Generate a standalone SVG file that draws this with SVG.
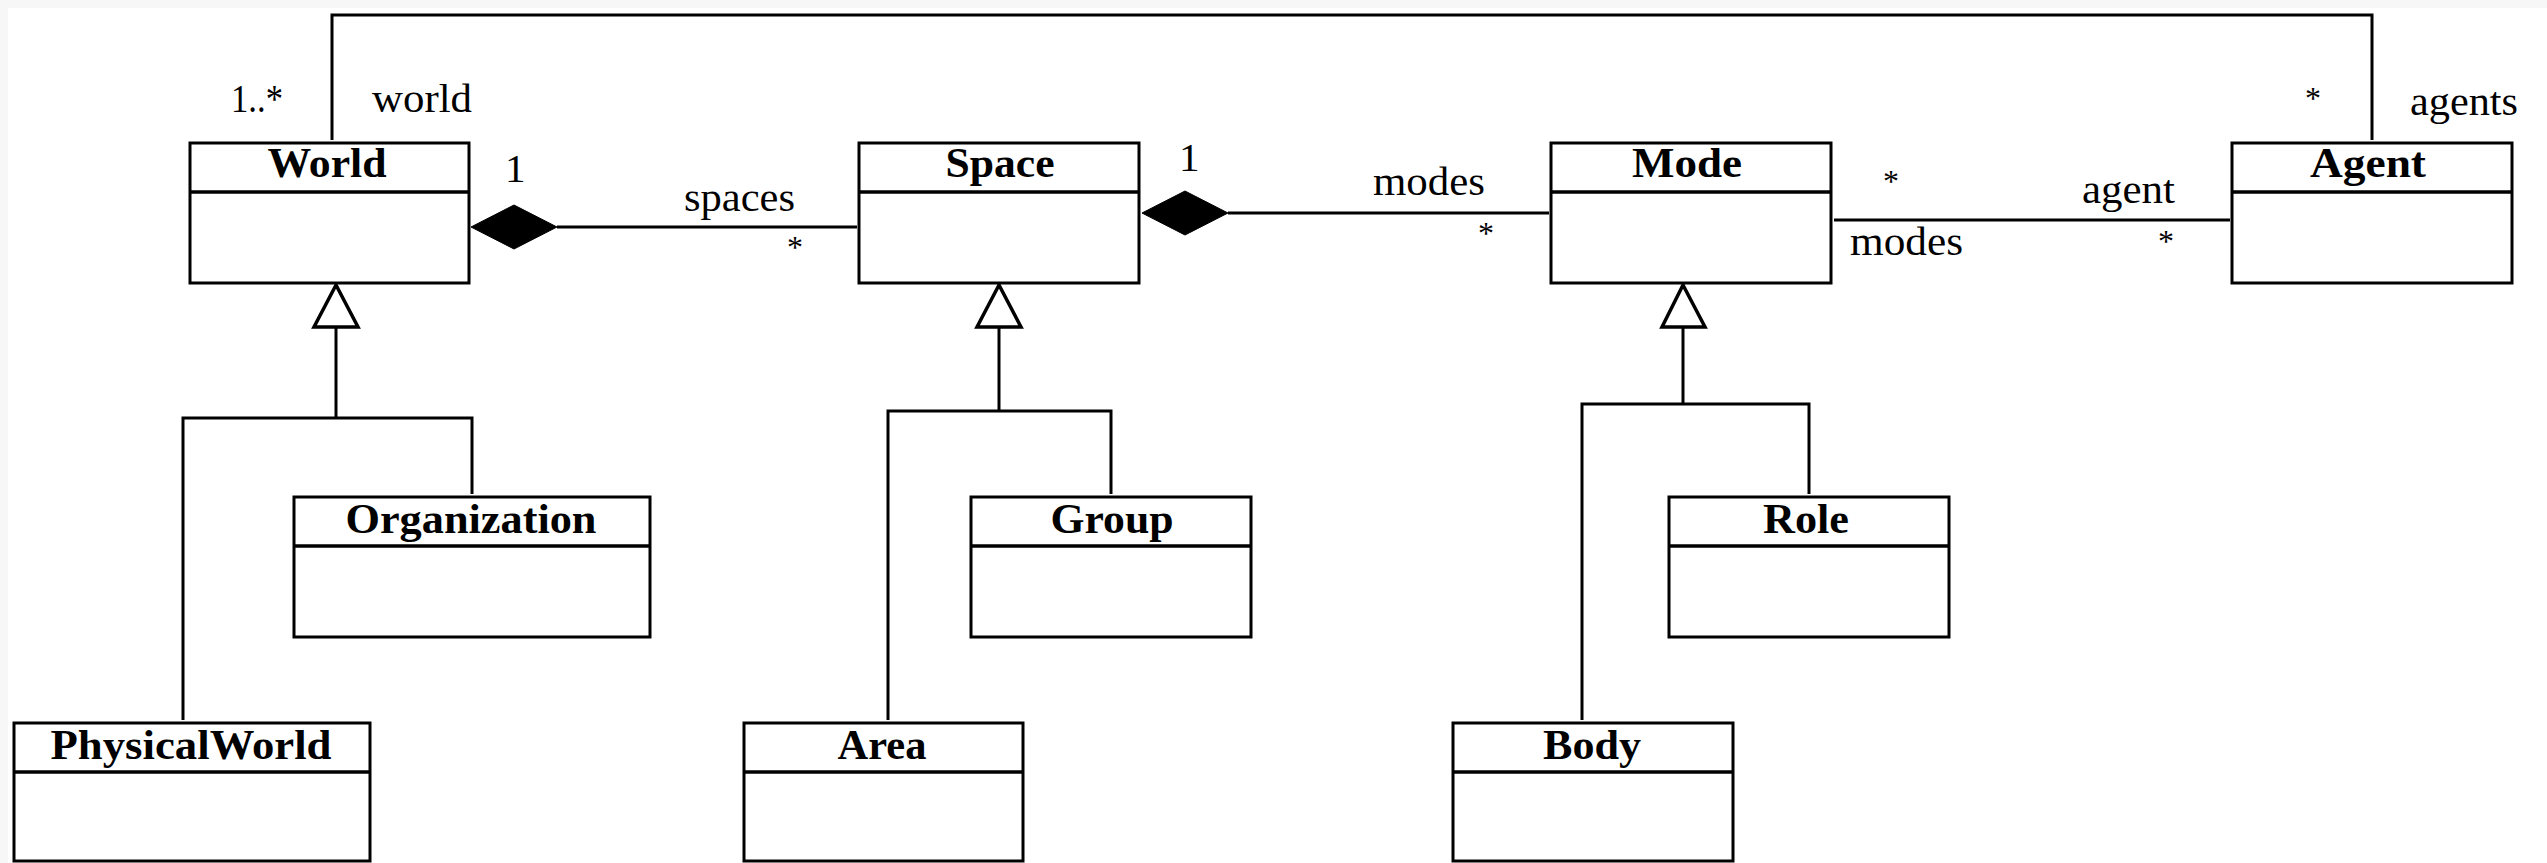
<svg xmlns="http://www.w3.org/2000/svg" width="2547" height="863" viewBox="0 0 2547 863">
  <style>
    .box { fill: #ffffff; stroke: #000000; stroke-width: 3; }
    .div { stroke: #000000; stroke-width: 3.5; fill: none; }
    .title { font-family: "Liberation Serif", "Times New Roman", serif; font-weight: bold; font-size: 42px; fill: #000000; text-anchor: middle; }
    .lbl { font-family: "Liberation Serif", "Times New Roman", serif; font-size: 41px; fill: #000000; }
    .mult { font-family: "Liberation Serif", "Times New Roman", serif; font-size: 32px; fill: #000000; text-anchor: middle; }
    .line { stroke: #000000; stroke-width: 3; fill: none; }
    .diamond { fill: #000000; stroke: #000000; stroke-width: 1; }
    .tri { fill: #ffffff; stroke: #000000; stroke-width: 3.5; stroke-linejoin: miter; }
  </style>

  <!-- page background with thin grey margin on the top and left -->
  <rect x="0" y="0" width="2547" height="863" fill="#f7f7f7"/>
  <rect x="8" y="8" width="2539" height="855" fill="#ffffff"/>

  <!-- connectors -->
  <g id="connectors">
    <!-- World / Agent association over the top -->
    <polyline class="line" points="332,140 332,15 2372,15 2372,140"/>
    <!-- World composes Space -->
    <line class="line" x1="557" y1="227" x2="857" y2="227"/>
    <polygon class="diamond" points="471,227 514,205 557,227 514,249"/>
    <!-- Space composes Mode -->
    <line class="line" x1="1228" y1="213" x2="1549" y2="213"/>
    <polygon class="diamond" points="1142,213 1185,191 1228,213 1185,235"/>
    <!-- Mode / Agent association -->
    <line class="line" x1="1834" y1="220" x2="2230" y2="220"/>

    <!-- World generalization -->
    <polyline class="line" points="336,327 336,418"/>
    <polyline class="line" points="183,720 183,418 472,418 472,494"/>
    <polygon class="tri" points="336,285 314,327 358,327"/>
    <!-- Space generalization -->
    <polyline class="line" points="999,327 999,411"/>
    <polyline class="line" points="888,720 888,411 1111,411 1111,494"/>
    <polygon class="tri" points="999,285 977,327 1021,327"/>
    <!-- Mode generalization -->
    <polyline class="line" points="1683,327 1683,404"/>
    <polyline class="line" points="1582,720 1582,404 1809,404 1809,494"/>
    <polygon class="tri" points="1683,285 1662,327 1705,327"/>

    <!-- role names and multiplicities -->
    <text class="lbl" x="231" y="112" textLength="52" lengthAdjust="spacingAndGlyphs">1..*</text>
    <text class="lbl" x="372" y="112" textLength="100" lengthAdjust="spacingAndGlyphs">world</text>
    <text class="lbl" x="505" y="182">1</text>
    <text class="lbl" x="684" y="211" textLength="111" lengthAdjust="spacingAndGlyphs">spaces</text>
    <text class="mult" x="795" y="258">*</text>
    <text class="lbl" x="1179" y="171">1</text>
    <text class="lbl" x="1373" y="195" textLength="112" lengthAdjust="spacingAndGlyphs">modes</text>
    <text class="mult" x="1486" y="244">*</text>
    <text class="mult" x="1891" y="192">*</text>
    <text class="lbl" x="2082" y="203" textLength="93" lengthAdjust="spacingAndGlyphs">agent</text>
    <text class="lbl" x="1850" y="255" textLength="113" lengthAdjust="spacingAndGlyphs">modes</text>
    <text class="mult" x="2166" y="252">*</text>
    <text class="mult" x="2313" y="109">*</text>
    <text class="lbl" x="2410" y="115" textLength="108" lengthAdjust="spacingAndGlyphs">agents</text>
  </g>

  <!-- classes -->
  <g id="World">
    <rect class="box" x="190" y="143" width="279" height="140"/>
    <line class="div" x1="190" y1="192" x2="469" y2="192"/>
    <text class="title" x="327" y="177" textLength="119" lengthAdjust="spacingAndGlyphs">World</text>
  </g>
  <g id="Space">
    <rect class="box" x="859" y="143" width="280" height="140"/>
    <line class="div" x1="859" y1="192" x2="1139" y2="192"/>
    <text class="title" x="1000" y="177" textLength="109" lengthAdjust="spacingAndGlyphs">Space</text>
  </g>
  <g id="Mode">
    <rect class="box" x="1551" y="143" width="280" height="140"/>
    <line class="div" x1="1551" y1="192" x2="1831" y2="192"/>
    <text class="title" x="1687" y="177" textLength="110" lengthAdjust="spacingAndGlyphs">Mode</text>
  </g>
  <g id="Agent">
    <rect class="box" x="2232" y="143" width="280" height="140"/>
    <line class="div" x1="2232" y1="192" x2="2512" y2="192"/>
    <text class="title" x="2368" y="177" textLength="116" lengthAdjust="spacingAndGlyphs">Agent</text>
  </g>
  <g id="Organization">
    <rect class="box" x="294" y="497" width="356" height="140"/>
    <line class="div" x1="294" y1="546" x2="650" y2="546"/>
    <text class="title" x="471" y="533" textLength="251" lengthAdjust="spacingAndGlyphs">Organization</text>
  </g>
  <g id="Group">
    <rect class="box" x="971" y="497" width="280" height="140"/>
    <line class="div" x1="971" y1="546" x2="1251" y2="546"/>
    <text class="title" x="1112" y="533" textLength="123" lengthAdjust="spacingAndGlyphs">Group</text>
  </g>
  <g id="Role">
    <rect class="box" x="1669" y="497" width="280" height="140"/>
    <line class="div" x1="1669" y1="546" x2="1949" y2="546"/>
    <text class="title" x="1806" y="533" textLength="86" lengthAdjust="spacingAndGlyphs">Role</text>
  </g>
  <g id="PhysicalWorld">
    <rect class="box" x="14" y="723" width="356" height="138"/>
    <line class="div" x1="14" y1="772" x2="370" y2="772"/>
    <text class="title" x="191" y="759" textLength="281" lengthAdjust="spacingAndGlyphs">PhysicalWorld</text>
  </g>
  <g id="Area">
    <rect class="box" x="744" y="723" width="279" height="138"/>
    <line class="div" x1="744" y1="772" x2="1023" y2="772"/>
    <text class="title" x="882" y="759" textLength="89" lengthAdjust="spacingAndGlyphs">Area</text>
  </g>
  <g id="Body">
    <rect class="box" x="1453" y="723" width="280" height="138"/>
    <line class="div" x1="1453" y1="772" x2="1733" y2="772"/>
    <text class="title" x="1592" y="759" textLength="98" lengthAdjust="spacingAndGlyphs">Body</text>
  </g>
</svg>
